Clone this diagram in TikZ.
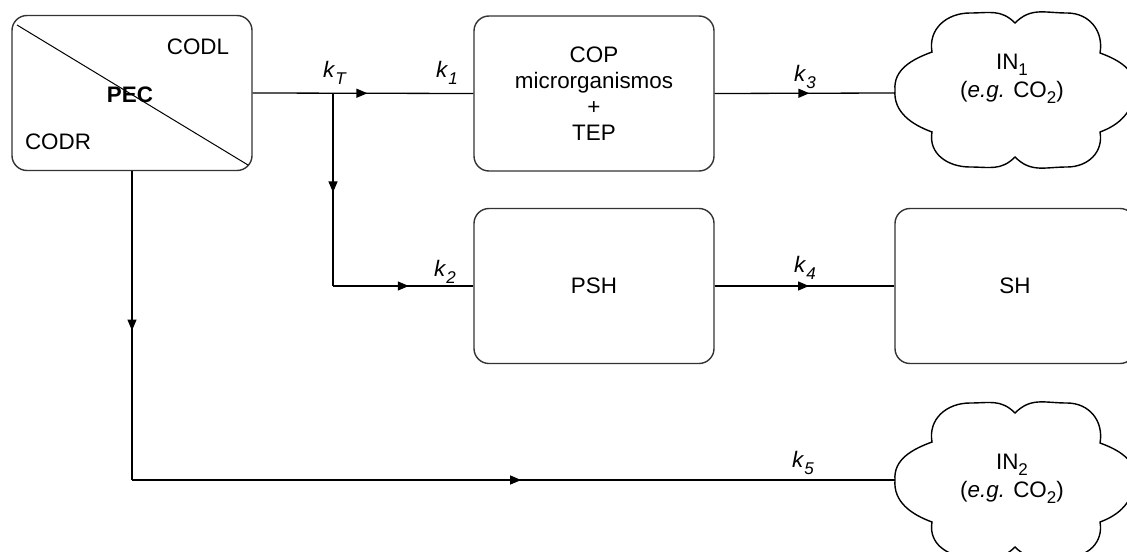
\documentclass[tikz,border=0pt]{standalone}
\usepackage{fontspec}
\setmainfont{Liberation Sans}
\usetikzlibrary{decorations.markings,arrows.meta}
\newcommand\mycloudpath{(-120,0) to[out=95,in=200] (-83,-38) to[out=100,in=180,looseness=1.1] (-45,-77) to[out=0,in=135,looseness=1.1] (0,-67) to[out=45,in=180,looseness=1.1] (52,-77) to[out=0,in=80,looseness=1.1] (85,-37) to[out=-20,in=85] (120,0) to[out=-95,in=20] (85,42) to[out=-80,in=0,looseness=1.1] (52,77) to[out=180,in=-45,looseness=1.1] (0,67) to[out=-135,in=0,looseness=1.1] (-45,77) to[out=180,in=-100,looseness=1.1] (-83,42) to[out=160,in=-95] (-120,0) -- cycle}
\newcommand\lsub[1]{\raisebox{-0.55ex}{\fontsize{8.5}{9}\selectfont #1}}
\begin{document}
\begin{tikzpicture}[x=0.5pt,y=-0.5pt,
 box/.style={draw=black!80, line width=0.7pt, rounded corners=7.5pt, minimum width=120pt, minimum height=77.5pt, inner sep=0pt, align=center, font=\fontsize{11.2}{13}\selectfont},
 txt/.style={inner sep=0pt, align=center, font=\fontsize{11.2}{14}\selectfont},
 cloudline/.style={draw, line width=0.7pt},
 conn/.style={line width=0.65pt},
 marr/.style={postaction={decorate}, decoration={markings, mark=at position #1 with {\arrow{Triangle[length=5.5pt,width=4.5pt]}}}},
]
\useasboundingbox (0,0) rectangle (1127,551);
\clip (0,0) rectangle (1127,551);

% PEC box
\node[box] (pec) at (132,93) {};
\draw[line width=0.5pt] (17,25) -- (248,165);
\node[txt] (codl) at (198,47) {CODL};
\node[txt] (codr) at (58,142) {CODR};
\node[txt, font=\fontsize{11.2}{13}\selectfont\bfseries] (pect) at (130,95) {PEC};

% other boxes
\node[box] (cop) at (594,93.5) {COP\\microrganismos\\+\\TEP};
\node[box] (psh) at (594,286) {PSH};
\node[box] (sh) at (1015,286) {SH};

% clouds
\draw[cloudline, shift={(1015,90)}] \mycloudpath;
\coordinate (in1w) at (895,93);
\node[txt] (in1) at (1012,79) {IN\lsub{1}\\(\textit{e.g.} CO\lsub{2})};
\draw[cloudline, shift={(1015,480)}] \mycloudpath;
\coordinate (in2w) at (895,480);
\node[txt] (in2) at (1012,479) {IN\lsub{2}\\(\textit{e.g.} CO\lsub{2})};

% connectors
\coordinate (j) at (333,93);
\coordinate (j2) at (j |- psh.west);
\coordinate (c) at (pec.south |- in2w);
\draw[conn, marr=0.52] (pec.east) -- (cop.west);
\draw[conn, marr=0.515] (j) -- (j2);
\draw[conn, marr=0.54] (j2) -- (psh.west);
\draw[conn, marr=0.525] (cop.east) -- (in1w);
\draw[conn, marr=0.525] (psh.east) -- (sh.west);
\draw[conn, marr=0.516] (pec.south) -- (c);
\draw[conn, marr=0.51] (c) -- (in2w);

% labels
\node[txt] (kT) at (335,73) {\textit{k}\lsub{\textit{T}}};
\node[txt] (k1) at (447,73) {\textit{k}\lsub{\textit{1}}};
\node[txt] (k2) at (445,272) {\textit{k}\lsub{\textit{2}}};
\node[txt] (k3) at (805,77) {\textit{k}\lsub{\textit{3}}};
\node[txt] (k4) at (805,268) {\textit{k}\lsub{\textit{4}}};
\node[txt] (k5) at (803,463) {\textit{k}\lsub{\textit{5}}};
\end{tikzpicture}
\end{document}
